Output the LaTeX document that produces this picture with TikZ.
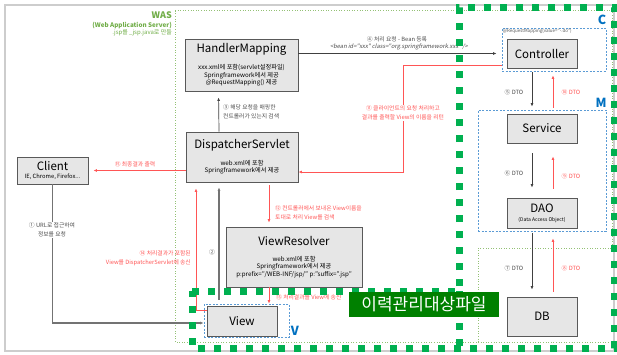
\documentclass[tikz,border=0pt]{standalone}
\usepackage{fontspec}
\setmainfont{Noto Sans CJK KR}
\newfontfamily\beanfont[FakeSlant=0.2]{Noto Sans CJK KR}
\usetikzlibrary{arrows.meta,calc,positioning}
\definecolor{mvcgray}{RGB}{89,89,89}
\definecolor{mvcfill}{RGB}{230,230,230}
\definecolor{mvcred}{RGB}{255,85,85}
\definecolor{mvcblue}{RGB}{91,155,213}
\definecolor{mvcletter}{RGB}{0,112,192}
\definecolor{wasgreen}{RGB}{112,173,71}
\definecolor{histgreen}{RGB}{0,176,80}
\definecolor{histlabel}{RGB}{0,128,0}
\definecolor{framegray}{RGB}{205,205,205}
\newcommand{\tinyfont}{\fontsize{5.8}{8.5}\selectfont}
\newcommand{\subfont}{\fontsize{6.2}{7.6}\selectfont}
\newcommand{\titlefont}{\fontsize{11.5}{13}\selectfont}

\begin{document}
\begin{tikzpicture}[x=1pt,y=-1pt,
    mvcnode/.style={draw=mvcgray,fill=mvcfill,line width=0.9pt,align=center,font=\subfont,inner sep=1pt},
    area/.style={draw=mvcblue,dash pattern=on 2pt off 1.5pt,line width=0.8pt,inner sep=0},
    flow/.style={draw=black!75,line width=0.7pt,-{Latex[length=3.5pt,width=3pt]}},
    greyflow/.style={draw=black!55,line width=1.2pt,-{Latex[length=3.5pt,width=3pt]}},
    redflow/.style={draw=mvcred,line width=0.8pt,-{Latex[length=3.5pt,width=3pt]}},
    note/.style={font=\tinyfont,text=black!70,align=center,inner sep=1pt},
    rednote/.style={note,text=mvcred},
    letter/.style={font=\bfseries\fontsize{12.5}{13}\selectfont,text=mvcletter,inner sep=0},
    wasline/.style={draw=wasgreen!75,dotted,line width=0.6pt}]
  \useasboundingbox (0,0) rectangle (617,354);
  % frames
  \draw[framegray,line width=1.2pt] (5,5) rectangle (614,351);
  \draw[wasline] (175,10) -- (612,10) -- (612,248) -- (478,248) -- (478,342) -- (175,342) -- cycle;
  \draw[wasline] (478,342) -- (612,342);
  \node[font=\bfseries\fontsize{9}{10}\selectfont,text=wasgreen,anchor=east,inner sep=0] (was) at (172,15) {WAS};
  \node[font=\bfseries\fontsize{6.3}{7}\selectfont,text=wasgreen,anchor=east,inner sep=0] at (172,25) {(Web Application Server)};
  \node[font=\fontsize{6}{7}\selectfont,text=wasgreen,anchor=east,inner sep=0] at (172,33) {.jsp를 \_jsp.java로 만듦};

  % areas
  \node[area,minimum width=104,minimum height=43] (ctrlarea) at (554,49.5) {};
  \node[area,minimum width=128,minimum height=121] (modelarea) at (542,170.5) {};
  \node[area,minimum width=85,minimum height=33] (viewarea) at (246.5,320.5) {};
  \node[font=\fontsize{4.5}{5}\selectfont,text=black!65,anchor=north west,inner sep=1pt] at (ctrlarea.north west) {@RequestMapping(value="-.do")};
  \node[letter] at (602,20) {C};
  \node[letter] at (601,103) {M};
  \node[letter] at (295,331) {V};

  % components
  \node[mvcnode,minimum width=71,minimum height=27] (client) at (52.5,170.5)
    {{\titlefont Client}\\[0.5pt]{\tinyfont IE, Chrome, Firefox...}};
  \node[mvcnode,minimum width=113,minimum height=52] (handler) at (241.5,65)
    {{\titlefont HandlerMapping}\\[8pt]xxx.xml에 포함(servlet설정파일)\\Springframework에서 제공\\@RequestMapping() 제공};
  \node[mvcnode,minimum width=112,minimum height=50] (dispatcher) at (242,157)
    {{\titlefont DispatcherServlet}\\[7.5pt]web.xml에 포함\\Springframework에서 제공};
  \node[mvcnode,minimum width=136,minimum height=60] (resolver) at (294,257)
    {{\titlefont ViewResolver}\\[8pt]web.xml에 포함\\Springframework에서 제공\\p:prefix="/WEB-INF/jsp/" p:"suffix=".jsp"};
  \node[mvcnode,minimum width=70,minimum height=30,font=\titlefont] (view) at (242,321) {View};
  \node[mvcnode,minimum width=70,minimum height=29,font=\titlefont] (controller) at (542,53.5) {Controller};
  \node[mvcnode,minimum width=70,minimum height=29,font=\titlefont] (service) at (542,128.5) {Service};
  \node[mvcnode,minimum width=70,minimum height=30] (dao) at (542,213)
    {{\titlefont DAO}\\[1.5pt]{\fontsize{5}{6}\selectfont (Data Access Object)}};
  \node[mvcnode,minimum width=70,minimum height=39,font=\titlefont] (db) at (542,316.5) {DB};

  % request flow
  \draw[greyflow,shorten >=3pt] (client.south) |- ([yshift=-2]view.west);
  \node[note,fill=white] at (52,230) {① URL로 접근하여\\정보를 요청};
  \draw[greyflow,shorten <=6pt,shorten >=5pt] ([xshift=-23]view.north) -- ([xshift=-23]dispatcher.south);
  \node[note,anchor=east] at (216,252) {②};
  \draw[flow,shorten >=6pt] ([xshift=-23]dispatcher.north) -- ([xshift=-23]handler.south);
  \node[note,anchor=west,align=left] at (222,112) {③ 해당 요청을 매핑한\\컨트롤러가 있는지 검색};
  \draw[flow,shorten >=10pt] (handler.east |- controller.west) -- (controller.west);
  \node[note] at (397,39) {④ 처리 요청 - Bean 등록};
  \node[note] at (399,47) {\beanfont <bean id="xxx" class="org.springframework.xxx" />};

  % DTO flow
  \draw[flow,shorten <=4pt,shorten >=3pt] ([xshift=-10]controller.south) -- ([xshift=-10]modelarea.north);
  \draw[flow,shorten <=10pt,shorten >=10pt] ([xshift=-10]service.south) -- ([xshift=-10]dao.north);
  \draw[flow,shorten <=2pt,shorten >=7pt] ([xshift=-10]modelarea.south) -- ([xshift=-10]db.north);
  \draw[redflow,shorten <=5pt,shorten >=7pt] ([xshift=11]db.north) -- ([xshift=11]modelarea.south);
  \draw[redflow,shorten <=9pt,shorten >=13pt] ([xshift=11]dao.north) -- ([xshift=11]service.south);
  \draw[redflow,shorten <=2pt,shorten >=4pt] ([xshift=11]modelarea.north) -- ([xshift=11]ctrlarea.south -| controller);
  \node[note] at (514,92) {⑤ DTO};
  \node[note] at (514,173) {⑥ DTO};
  \node[note] at (514,268) {⑦ DTO};
  \node[rednote] at (571,268) {⑧ DTO};
  \node[rednote] at (571,176) {⑨ DTO};
  \node[rednote] at (571,92) {⑩ DTO};

  % response flow
  \coordinate (turn) at (403,172);
  \draw[redflow] ([yshift=-15.5]ctrlarea.west) -| (turn) -- (dispatcher.east |- turn);
  \node[rednote,fill=white] at (403,113) {⑪ 클라이언트의 요청 처리하고\\결과를 출력할 View의 이름을 리턴};
  \draw[redflow,shorten <=3pt,shorten >=4pt] ([xshift=27]dispatcher.south) -- ([xshift=27]dispatcher.south |- resolver.north);
  \node[rednote,anchor=west,align=left] at (274,213) {⑫ 컨트롤러에서 보내온 View이름을\\토대로 처리 View를 검색};
  \draw[redflow,shorten >=2pt] ([xshift=27]view.north |- resolver.south) -- ([xshift=27]view.north);
  \node[rednote,anchor=west] at (275,297) {⑬ 처리결과를 View에 송신};
  \draw[redflow,shorten >=6pt] ([yshift=11]view.west) -| ([xshift=-46]dispatcher.south);
  \node[rednote,anchor=east,align=right] at (192,258) {⑭ 처리결과가 포함된\\View를 DispatcherServlet에 송신};
  \draw[redflow,shorten >=5pt] (dispatcher.west |- client.east) -- (client.east);
  \node[rednote] at (135,164) {⑮ 최종결과 출력};

  % history files
  \draw[histgreen,line width=7pt,dash pattern=on 7pt off 9pt] (192,291) -- (459,291) -- (459,7) -- (614,7) -- (614,348) -- (192,348) -- cycle;
  \draw[histgreen,line width=7pt,dash pattern=on 7pt off 9pt] (459,291) -- (459,348);
  \node[fill=histlabel,text=white,font=\fontsize{17}{18}\selectfont,minimum width=150,minimum height=25,inner sep=1pt] (history) at (424,304.5) {이력관리대상파일};
\end{tikzpicture}
\end{document}
